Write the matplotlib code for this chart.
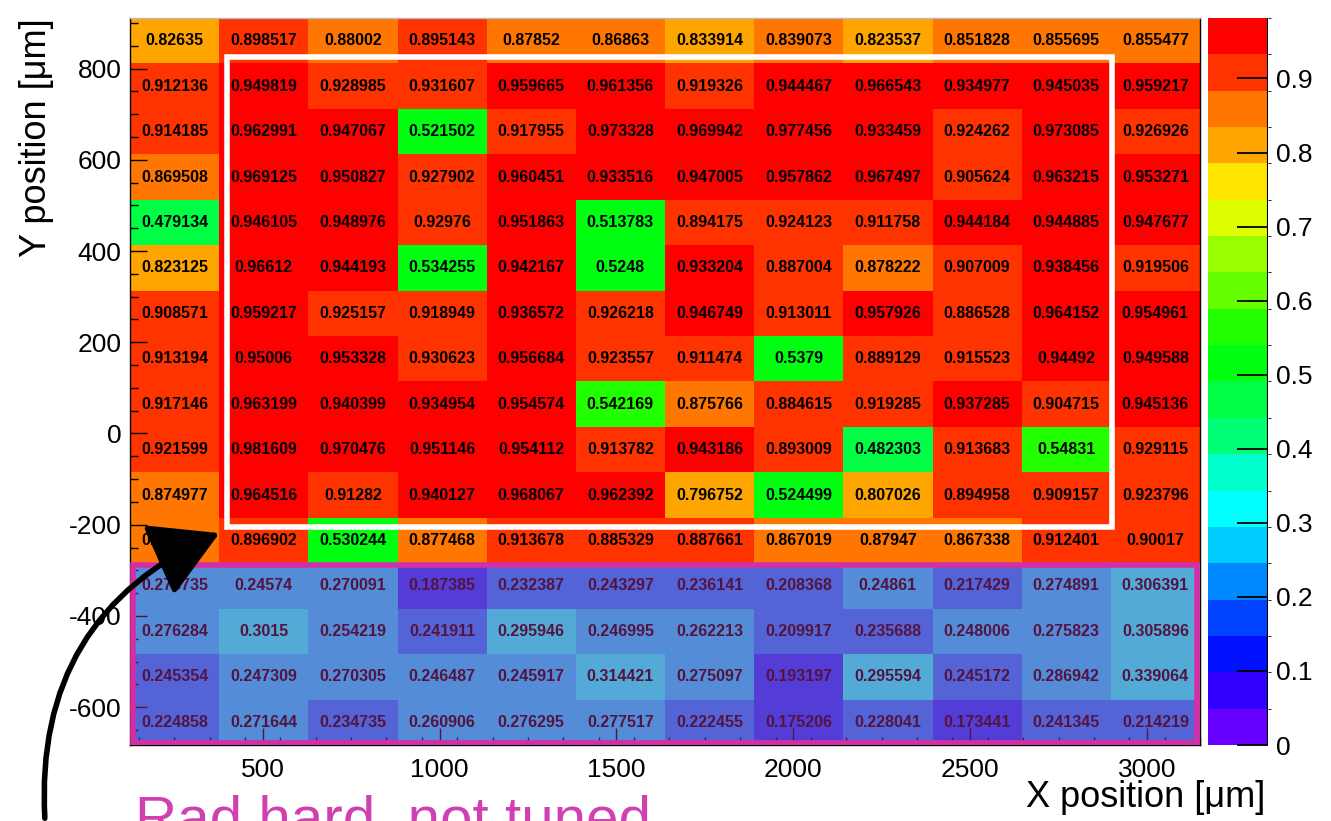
import numpy as np
import matplotlib
matplotlib.use("Agg")
import matplotlib.pyplot as plt
from matplotlib.colors import ListedColormap, BoundaryNorm
from matplotlib.patches import Rectangle, FancyArrowPatch

plt.rcParams['font.family'] = ['Liberation Sans', 'DejaVu Sans']
plt.rcParams['axes.unicode_minus'] = False

# bin edges in um
x_edges = np.linspace(125, 3150, 13)
y_edges = np.linspace(-683, 911, 17)

# efficiency per cell, rows listed from top (high Y) to bottom
eff = [
    [0.82635, 0.898517, 0.88002, 0.895143, 0.87852, 0.86863, 0.833914, 0.839073, 0.823537, 0.851828, 0.855695, 0.855477],
    [0.912136, 0.949819, 0.928985, 0.931607, 0.959665, 0.961356, 0.919326, 0.944467, 0.966543, 0.934977, 0.945035, 0.959217],
    [0.914185, 0.962991, 0.947067, 0.521502, 0.917955, 0.973328, 0.969942, 0.977456, 0.933459, 0.924262, 0.973085, 0.926926],
    [0.869508, 0.969125, 0.950827, 0.927902, 0.960451, 0.933516, 0.947005, 0.957862, 0.967497, 0.905624, 0.963215, 0.953271],
    [0.479134, 0.946105, 0.948976, 0.92976, 0.951863, 0.513783, 0.894175, 0.924123, 0.911758, 0.944184, 0.944885, 0.947677],
    [0.823125, 0.96612, 0.944193, 0.534255, 0.942167, 0.5248, 0.933204, 0.887004, 0.878222, 0.907009, 0.938456, 0.919506],
    [0.908571, 0.959217, 0.925157, 0.918949, 0.936572, 0.926218, 0.946749, 0.913011, 0.957926, 0.886528, 0.964152, 0.954961],
    [0.913194, 0.95006, 0.953328, 0.930623, 0.956684, 0.923557, 0.911474, 0.5379, 0.889129, 0.915523, 0.94492, 0.949588],
    [0.917146, 0.963199, 0.940399, 0.934954, 0.954574, 0.542169, 0.875766, 0.884615, 0.919285, 0.937285, 0.904715, 0.945136],
    [0.921599, 0.981609, 0.970476, 0.951146, 0.954112, 0.913782, 0.943186, 0.893009, 0.482303, 0.913683, 0.54831, 0.929115],
    [0.874977, 0.964516, 0.91282, 0.940127, 0.968067, 0.962392, 0.796752, 0.524499, 0.807026, 0.894958, 0.909157, 0.923796],
    [0.871245, 0.896902, 0.530244, 0.877468, 0.913678, 0.885329, 0.887661, 0.867019, 0.87947, 0.867338, 0.912401, 0.90017],
    [0.273735, 0.24574, 0.270091, 0.187385, 0.232387, 0.243297, 0.236141, 0.208368, 0.24861, 0.217429, 0.274891, 0.306391],
    [0.276284, 0.3015, 0.254219, 0.241911, 0.295946, 0.246995, 0.262213, 0.209917, 0.235688, 0.248006, 0.275823, 0.305896],
    [0.245354, 0.247309, 0.270305, 0.246487, 0.245917, 0.314421, 0.275097, 0.193197, 0.295594, 0.245172, 0.286942, 0.339064],
    [0.224858, 0.271644, 0.234735, 0.260906, 0.276295, 0.277517, 0.222455, 0.175206, 0.228041, 0.173441, 0.241345, 0.214219],
]

x_ticks = [500, 1000, 1500, 2000, 2500, 3000]
y_ticks = [-600, -400, -200, 0, 200, 400, 600, 800]
cb_ticks = [0, 0.1, 0.2, 0.3, 0.4, 0.5, 0.6, 0.7, 0.8, 0.9]
cb_labels = ['0', '0.1', '0.2', '0.3', '0.4', '0.5', '0.6', '0.7', '0.8', '0.9']

# ROOT-like palette, 20 contours (low -> high)
palette = ['#6600ff', '#3300ff', '#0011ff', '#0044ff', '#0088ff', '#00ccff', '#00ffff',
           '#00ffcc', '#00ff77', '#00ff44', '#00ff11', '#22ff00', '#66ff00', '#99ff00',
           '#ddff00', '#ffe600', '#ffa500', '#ff7700', '#ff3300', '#ff0000']

z = np.array(eff)[::-1]   # bottom row first for pcolormesh
vmax = z.max()
levels = np.linspace(0, vmax, len(palette) + 1)
cmap = ListedColormap(palette)
norm = BoundaryNorm(levels, cmap.N)

fig = plt.figure(figsize=(13.31, 8.21), dpi=100)
ax = fig.add_axes([130/1331, 1 - 745/821, 1070/1331, 727/821])
cax = fig.add_axes([1208/1331, 1 - 745/821, 60/1331, 727/821])

mesh = ax.pcolormesh(x_edges, y_edges, z, cmap=cmap, norm=norm, zorder=1)

xc = 0.5 * (x_edges[:-1] + x_edges[1:])
yc = 0.5 * (y_edges[:-1] + y_edges[1:])
for i in range(len(yc)):
    for j in range(len(xc)):
        ax.text(xc[j], yc[i], f"{z[i, j]:g}", ha='center', va='center',
                fontsize=11.5, fontweight='bold', color='black', zorder=2)

ax.set_xlim(x_edges[0], x_edges[-1])
ax.set_ylim(y_edges[0], y_edges[-1])
ax.set_xticks(x_ticks)
ax.set_yticks(y_ticks)
ax.set_yticks(np.arange(-650, 901, 50), minor=True)
ax.set_xticks(np.arange(150, 3151, 100), minor=True)
ax.tick_params(which='both', direction='in', top=False, right=False, labelsize=19)
ax.tick_params(which='major', length=12, width=1)
ax.tick_params(which='minor', length=6, width=1)
ax.tick_params(axis='y', pad=6)
ax.tick_params(axis='x', pad=9)
for s in ax.spines.values():
    s.set_linewidth(1)
ax.spines['top'].set_color('#bbbbbb')

# white frame around the central region
ax.add_patch(Rectangle((400, -204), 2500, 1030, fill=False, edgecolor='white',
                       linewidth=4, zorder=4))
# magenta overlay on the bottom four rows
ax.add_patch(Rectangle((x_edges[0], y_edges[0]), x_edges[-1] - x_edges[0], y_edges[4] - y_edges[0],
                       facecolor='#ce319e', alpha=0.41, edgecolor='none', zorder=3))
ax.add_patch(Rectangle((x_edges[0] + 8, y_edges[0] + 5), x_edges[-1] - x_edges[0] - 16,
                       y_edges[4] - y_edges[0] - 8, fill=False, edgecolor='#d42ea6',
                       linewidth=4, zorder=4))

cb = fig.colorbar(mesh, cax=cax, ticks=cb_ticks)
cb.outline.set_visible(False)
cax.set_ylim(0, vmax)
cax.set_yticklabels(cb_labels)
cax.tick_params(direction='in', length=22, width=1.3, labelsize=19, pad=6, right=True)
cax.axvline(1, color='black', linewidth=1.5)

fig.text(1265/1331, 1 - 797/821, "X position [μm]", ha='right', va='center', fontsize=26)
fig.text(37/1331, 1 - 18/821, "Y position [μm]", ha='center', va='top', rotation=90, fontsize=26)

# annotation at the bottom (partly cut off in the original)
fig.text(135/1331, 1 - 836/821, "Rad hard, not tuned", ha='left', va='baseline',
         fontsize=42, color='#d040b0')
arrow = FancyArrowPatch((45/1331, 0.0), (222/1331, 1 - 532/821), transform=fig.transFigure,
                        connectionstyle="arc3,rad=-0.35", arrowstyle='-|>,head_length=14,head_width=8',
                        mutation_scale=3, color='black', linewidth=4)
fig.patches.append(arrow)

fig.savefig("out.png", dpi=100)
